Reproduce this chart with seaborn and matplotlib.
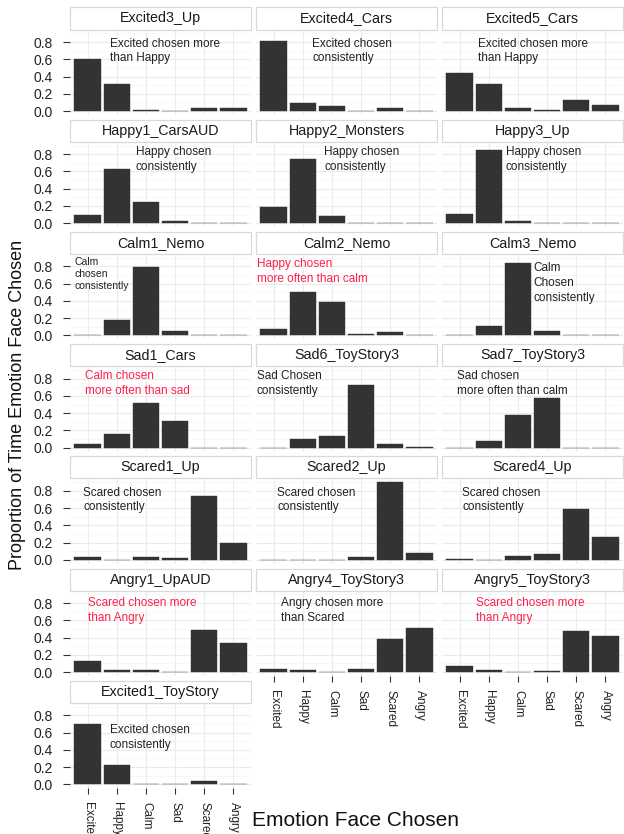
import numpy as np
import pandas as pd
import matplotlib
matplotlib.use('Agg')
from matplotlib import pyplot as plt
from matplotlib.patches import Rectangle
import seaborn as sns

emotions = ['Excited', 'Happy', 'Calm', 'Sad', 'Scared', 'Angry']

clips = ['Excited3_Up', 'Excited4_Cars', 'Excited5_Cars',
         'Happy1_CarsAUD', 'Happy2_Monsters', 'Happy3_Up',
         'Calm1_Nemo', 'Calm2_Nemo', 'Calm3_Nemo',
         'Sad1_Cars', 'Sad6_ToyStory3', 'Sad7_ToyStory3',
         'Scared1_Up', 'Scared2_Up', 'Scared4_Up',
         'Angry1_UpAUD', 'Angry4_ToyStory3', 'Angry5_ToyStory3',
         'Excited1_ToyStory']

# proportion of time each face was chosen, in emotions order
excited3_up = [0.60, 0.31, 0.01, 0.0, 0.03, 0.04]
excited4_cars = [0.81, 0.09, 0.06, 0.0, 0.03, 0.0]
excited5_cars = [0.44, 0.31, 0.03, 0.01, 0.13, 0.07]
happy1_carsaud = [0.10, 0.63, 0.25, 0.03, 0.0, 0.0]
happy2_monsters = [0.19, 0.75, 0.08, 0.0, 0.0, 0.0]
happy3_up = [0.11, 0.85, 0.03, 0.0, 0.0, 0.0]
calm1_nemo = [0.0, 0.18, 0.79, 0.05, 0.0, 0.0]
calm2_nemo = [0.07, 0.50, 0.39, 0.02, 0.04, 0.0]
calm3_nemo = [0.01, 0.11, 0.84, 0.05, 0.0, 0.0]
sad1_cars = [0.04, 0.16, 0.52, 0.31, 0.0, 0.0]
sad6_toystory3 = [0.0, 0.10, 0.14, 0.73, 0.04, 0.01]
sad7_toystory3 = [0.0, 0.08, 0.38, 0.57, 0.0, 0.0]
scared1_up = [0.03, 0.0, 0.03, 0.02, 0.74, 0.19]
scared2_up = [0.0, 0.0, 0.0, 0.03, 0.90, 0.08]
scared4_up = [0.01, 0.0, 0.04, 0.07, 0.59, 0.27]
angry1_upaud = [0.13, 0.03, 0.02, 0.0, 0.49, 0.34]
angry4_toystory3 = [0.04, 0.03, 0.0, 0.04, 0.38, 0.51]
angry5_toystory3 = [0.07, 0.03, 0.0, 0.01, 0.48, 0.42]
excited1_toystory = [0.70, 0.22, 0.005, 0.005, 0.04, 0.005]

proportions = [excited3_up, excited4_cars, excited5_cars,
               happy1_carsaud, happy2_monsters, happy3_up,
               calm1_nemo, calm2_nemo, calm3_nemo,
               sad1_cars, sad6_toystory3, sad7_toystory3,
               scared1_up, scared2_up, scared4_up,
               angry1_upaud, angry4_toystory3, angry5_toystory3,
               excited1_toystory]

notes = ['Excited chosen more\nthan Happy', 'Excited chosen\nconsistently', 'Excited chosen more\nthan Happy',
         'Happy chosen\nconsistently', 'Happy chosen\nconsistently', 'Happy chosen\nconsistently',
         'Calm\nchosen\nconsistently', 'Happy chosen\nmore often than calm', 'Calm\nChosen\nconsistently',
         'Calm chosen\nmore often than sad', 'Sad Chosen\nconsistently', 'Sad chosen\nmore often than calm',
         'Scared chosen\nconsistently', 'Scared chosen\nconsistently', 'Scared chosen\nconsistently',
         'Scared chosen more\nthan Angry', 'Angry chosen more\nthan Scared', 'Scared chosen more\nthan Angry',
         'Excited chosen\nconsistently']
note_red = [False, False, False, False, False, False, False, True, False,
            True, False, False, False, False, False, True, False, True, False]

# where each note sits (data coords, top-left corner)
note_x = [0.77, 1.33, 0.63, 1.66, 1.73, 1.58, -0.44, -0.57, 2.52,
          -0.08, -0.57, -0.09, -0.14, 0.12, 0.10, 0.0, 0.26, 0.55, 0.77]
note_y = [0.85, 0.85, 0.85, 0.89, 0.89, 0.89, 0.915, 0.90, 0.85,
          0.90, 0.90, 0.90, 0.85, 0.85, 0.85, 0.87, 0.87, 0.87, 0.70]

rows = []
for clip, vals in zip(clips, proportions):
    for emo, v in zip(emotions, vals):
        rows.append({'clip': clip, 'emotion': emo, 'prop': v})
df = pd.DataFrame(rows)

sns.set_theme(style='white')
plt.rcParams['font.family'] = ['Liberation Sans', 'DejaVu Sans']

g = sns.catplot(data=df, x='emotion', y='prop', col='clip', col_wrap=3,
                kind='bar', order=emotions, col_order=clips,
                color='#333333', saturation=1, width=0.9, errorbar=None,
                edgecolor='#333333', linewidth=0.3,
                height=0.854, aspect=181 / 85.4)
g.set_titles('')
g.set_axis_labels('', '')

fig = g.figure
fig.set_size_inches(6.24, 8.34)
fig.subplots_adjust(left=70 / 624, right=623 / 624, top=1 - 29.5 / 834,
                    bottom=1 - 788.2 / 834, wspace=5 / 181, hspace=26.8 / 85.4)

bottom_idx = {16, 17, 18}
strip_h = 22 / 85.4
for i, ax in enumerate(g.axes.flat):
    ax.set_xlim(-0.6, 5.6)
    ax.set_ylim(-0.045, 0.945)
    ax.set_yticks([0.0, 0.2, 0.4, 0.6, 0.8])
    ax.set_yticks([0.1, 0.3, 0.5, 0.7, 0.9], minor=True)
    ax.set_yticklabels(['0.0', '0.2', '0.4', '0.6', '0.8'])
    ax.set_xticks(range(len(emotions)))
    ax.set_xticklabels(emotions, rotation=-90)
    ax.set_axisbelow(True)
    ax.grid(True, which='major', color='#EBEBEB', linewidth=0.8)
    ax.grid(True, which='minor', axis='y', color='#F4F4F4', linewidth=0.5)
    for s in ax.spines.values():
        s.set_visible(False)
    left = (i % 3 == 0)
    bottom = i in bottom_idx
    ax.tick_params(axis='y', which='major', left=left, labelleft=left, length=4.8,
                   width=0.8, color='#333333', pad=7.5, labelsize=10, labelcolor='#222222')
    ax.tick_params(axis='y', which='minor', left=False)
    ax.tick_params(axis='x', bottom=bottom, labelbottom=bottom, length=4.5,
                   width=0.8, color='#333333', pad=5.5, labelsize=8.5, labelcolor='#222222')
    ax.set_xlabel('')
    ax.set_ylabel('')

    # facet strip
    ax.add_patch(Rectangle((0, 1.0), 1, strip_h, transform=ax.transAxes, clip_on=False,
                           facecolor='white', edgecolor='#D9D9D9', linewidth=0.9))
    ax.text(0.5, 1 + strip_h / 2, clips[i], transform=ax.transAxes, ha='center',
            va='center', fontsize=10.3, color='#1A1A1A')

    fs = 7.5 if clips[i] == 'Calm1_Nemo' else 8.5
    ax.text(note_x[i], note_y[i], notes[i], ha='left', va='top', fontsize=fs,
            color='#FF1F4B' if note_red[i] else '#222222', linespacing=1.3)

fig.text(18 / 624, 1 - 405 / 834, 'Proportion of Time Emotion Face Chosen', rotation=90,
         ha='center', va='center', fontsize=13, color='#111111')
fig.text(355 / 624, 1 - 821 / 834, 'Emotion Face Chosen', ha='center', va='center',
         fontsize=15, color='#111111')

fig.savefig('out.png', dpi=100)
